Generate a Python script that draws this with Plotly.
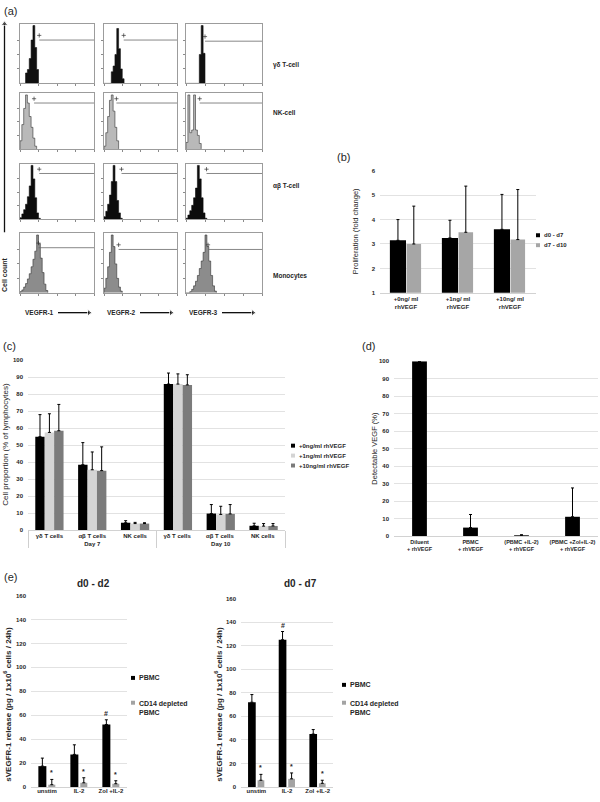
import plotly.graph_objects as go

W, H = 600, 802
FONT = "Liberation Sans"
TXT = "#262626"
GRID = "#e2e2e2"

# ---------------- (a) flow cytometry histograms ----------------
# counts per bin; bins are 2.5 units wide on a 0-100 display axis (4 log decades)
BIN = 2.5
gd_vegfr1 = [0, 0, 0, 18, 24, 43, 75, 100, 62, 24]
gd_vegfr2 = [0, 0, 0, 0, 20, 30, 50, 95, 60, 25, 8]
gd_vegfr3 = [0, 0, 0, 0, 0, 0, 0, 50, 100, 52]
nk_vegfr1 = [15, 45, 75, 100, 85, 60, 40, 20, 5]
nk_vegfr2 = [5, 30, 60, 90, 100, 70, 40, 15]
nk_vegfr3 = [12, 100, 30, 35, 100, 35, 25, 10]
ab_vegfr1 = [3, 10, 18, 28, 42, 62, 100, 75, 40, 12, 2]
ab_vegfr2 = [5, 15, 28, 45, 70, 100, 70, 35, 12, 2]
ab_vegfr3 = [2, 8, 16, 26, 40, 58, 100, 75, 40, 12, 2]
mo_vegfr1 = [2, 5, 10, 16, 24, 33, 45, 58, 72, 100, 85, 60, 35, 15, 4]
mo_vegfr2 = [8, 25, 45, 70, 100, 80, 50, 25, 10, 3]
mo_vegfr3 = [0, 0, 2, 6, 12, 20, 30, 42, 55, 70, 100, 80, 55, 30, 12, 3]
gate_start_gd = [26, 27, 25]
gate_level_gd = [75, 75, 73]
gate_start_nk = [19, 17, 18]
gate_level_nk = [85, 85, 85]
gate_start_ab = [26, 24, 27]
gate_level_ab = [85, 85, 85]
gate_start_mo = [25, 20, 29]
gate_level_mo = [78, 75, 75]
hist_row_labels = ["γδ T-cell", "NK-cell", "αβ T-cell", "Monocytes"]
hist_col_labels = ["VEGFR-1", "VEGFR-2", "VEGFR-3"]

# ---------------- (b) proliferation ----------------
b_categories = ["+0ng/ ml<br>rhVEGF", "+1ng/ ml<br>rhVEGF", "+10ng/ ml<br>rhVEGF"]
b_d0_d7 = [3.15, 3.25, 3.60]
b_d0_d7_err = [0.85, 0.72, 1.43]
b_d7_d10 = [3.00, 3.48, 3.18]
b_d7_d10_err = [1.55, 1.89, 2.05]

# ---------------- (c) cell proportions ----------------
c_days = ["Day 7", "Day 7", "Day 7", "Day 10", "Day 10", "Day 10"]
c_cells = ["γδ T cells", "αβ T cells", "NK cells", "γδ T cells ", "αβ T cells ", "NK cells "]
c_0ng = [55.0, 38.5, 4.3, 86.0, 9.7, 2.5]
c_0ng_err = [13.0, 13.0, 1.2, 6.5, 5.3, 1.5]
c_1ng = [57.5, 35.5, 3.8, 86.0, 9.2, 2.3]
c_1ng_err = [11.0, 10.5, 0.7, 6.0, 4.8, 1.5]
c_10ng = [58.5, 35.0, 3.8, 85.5, 9.5, 2.4]
c_10ng_err = [15.5, 14.0, 0.5, 6.0, 5.5, 1.4]
c_series = ["+0ng/ml rhVEGF", "+1ng/ml rhVEGF", "+10ng/ml rhVEGF"]

# ---------------- (d) detectable VEGF ----------------
d_categories = ["Diluent<br>+ rhVEGF", "PBMC<br>+ rhVEGF",
                "(PBMC +IL-2)<br>+ rhVEGF", "(PBMC +Zol+IL-2)<br>+ rhVEGF"]
d_values = [100.0, 4.8, 0.4, 11.0]
d_err = [0.0, 7.5, 0.3, 16.5]

# ---------------- (e) sVEGFR-1 release ----------------
e_categories = ["unstim", "IL-2", "Zol +IL-2"]
e_d2_pbmc = [17.5, 27.3, 52.3]
e_d2_pbmc_err = [6.7, 8.0, 3.9]
e_d2_cd14 = [2.0, 3.6, 2.8]
e_d2_cd14_err = [4.4, 4.2, 2.5]
e_d7_pbmc = [72.0, 125.0, 45.0]
e_d7_pbmc_err = [6.5, 7.0, 3.8]
e_d7_cd14 = [5.8, 7.0, 3.2]
e_d7_cd14_err = [5.0, 5.0, 2.6]
e_d2_hash = [False, False, True]
e_d7_hash = [False, True, False]

# ======================================================================
traces = []
layout = {}
annotations = []
shapes = []


def tf(size=6, bold=True, color=TXT):
    d = dict(family=FONT, size=size, color=color)
    if bold:
        d["weight"] = "bold"
    return d


def refs(n):
    s = "" if n == 1 else str(n)
    return "xaxis" + s, "yaxis" + s, "x" + s, "y" + s


def add_axes(n, xd, yd, xkw, ykw):
    xa, ya, xr, yr = refs(n)
    layout[xa] = dict(domain=[xd[0] / W, xd[1] / W], anchor=yr, **xkw)
    layout[ya] = dict(domain=[1 - yd[1] / H, 1 - yd[0] / H], anchor=xr, **ykw)
    return xr, yr


def ptext(text, x, y, size=6, bold=True, xanchor="center", yanchor="middle",
          angle=0, align="center"):
    annotations.append(dict(text=text, x=x / W, y=1 - y / H, xref="paper", yref="paper",
                            showarrow=False, xanchor=xanchor, yanchor=yanchor,
                            textangle=angle, align=align, font=tf(size, bold)))


def legend_item(x, y, color, text, size=6):
    shapes.append(dict(type="rect", xref="paper", yref="paper",
                       x0=x / W, x1=(x + 4) / W, y0=1 - (y + 2) / H, y1=1 - (y - 2) / H,
                       fillcolor=color, line=dict(width=0)))
    ptext(text, x + 6, y, size=size, xanchor="left", yanchor="middle", align="left")


def err(arr):
    return dict(type="data", array=arr, arrayminus=[0] * len(arr), symmetric=False,
                color="#000000", thickness=1, width=1.5)


# ---------------- panel (a) ----------------
rows_y = [(21, 81), (91, 147), (162, 218), (232, 292)]
cols_x = [(20, 94), (104, 177), (186, 262)]
hist_data = [[gd_vegfr1, gd_vegfr2, gd_vegfr3],
             [nk_vegfr1, nk_vegfr2, nk_vegfr3],
             [ab_vegfr1, ab_vegfr2, ab_vegfr3],
             [mo_vegfr1, mo_vegfr2, mo_vegfr3]]
gate_starts = [gate_start_gd, gate_start_nk, gate_start_ab, gate_start_mo]
gate_levels = [gate_level_gd, gate_level_nk, gate_level_ab, gate_level_mo]
fills = ["#101010", "#b9b9b9", "#0c0c0c", "#8c8c8c"]
outlines = ["#101010", "#333333", "#0c0c0c", "#333333"]
hist_axis = dict(range=[0, 100], showline=True, mirror=True, linecolor="#9c9c9c",
                 linewidth=1, ticks="outside", ticklen=2, tickcolor="#8a8a8a",
                 tickvals=[0, 25, 50, 75, 100], showticklabels=False,
                 showgrid=False, zeroline=False, fixedrange=True)
hist_yaxis = dict(range=[0, 103], showline=True, mirror=True, linecolor="#9c9c9c",
                  linewidth=1, ticks="outside", ticklen=2, tickcolor="#8a8a8a",
                  tickvals=[25, 50, 75], showticklabels=False,
                  showgrid=False, zeroline=False, fixedrange=True)
n = 0
for r in range(4):
    for c in range(3):
        n += 1
        xr, yr = add_axes(n, cols_x[c], rows_y[r], dict(hist_axis), dict(hist_yaxis))
        counts = hist_data[r][c]
        xs = [0] + [i * BIN for i in range(len(counts))] + [len(counts) * BIN]
        ys = [0] + list(counts) + [0]
        traces.append(go.Scatter(x=xs, y=ys, mode="lines", line_shape="hv",
                                 fill="tozeroy", fillcolor=fills[r], xaxis=xr, yaxis=yr,
                                 line=dict(color=outlines[r], width=0.6)))
        traces.append(go.Scatter(x=[gate_starts[r][c], 100],
                                 y=[gate_levels[r][c], gate_levels[r][c]],
                                 mode="lines", xaxis=xr, yaxis=yr,
                                 line=dict(color="#6a6a6a", width=0.8)))
        traces.append(go.Scatter(x=[gate_starts[r][c]], y=[gate_levels[r][c] + 8],
                                 mode="markers", xaxis=xr, yaxis=yr,
                                 marker=dict(symbol="cross-thin", size=3,
                                             line=dict(color="#333", width=0.7))))

row_label_y = [62, 110, 184, 275]
for r in range(4):
    ptext(hist_row_labels[r], 271, row_label_y[r], size=6.5, xanchor="left")

# full-page overlay axis (pixel units) for the axis arrows of panel (a)
xr_o, yr_o = add_axes(18, (0, W), (0, H),
                      dict(range=[0, W], visible=False, fixedrange=True),
                      dict(range=[H, 0], visible=False, fixedrange=True))
col_label_x = [23, 105, 187]
for c in range(3):
    ptext(hist_col_labels[c], col_label_x[c], 312, size=6.5, xanchor="left")
    x0 = col_label_x[c] + 35
    traces.append(go.Scatter(x=[x0, x0 + 31], y=[312, 312], mode="lines+markers",
                             xaxis=xr_o, yaxis=yr_o, line=dict(color="#111", width=1.3),
                             marker=dict(symbol=["circle", "triangle-right"],
                                         size=[0, 6], color="#111")))
traces.append(go.Scatter(x=[4.5, 4.5], y=[231, 21], mode="lines+markers",
                         xaxis=xr_o, yaxis=yr_o, line=dict(color="#111", width=1.3),
                         marker=dict(symbol=["circle", "triangle-up"], size=[0, 6],
                                     color="#111")))
ptext("Cell count", 5, 274, size=7, angle=-90)

# ---------------- panel (b) ----------------
bar_y = lambda rng, dt: dict(range=rng, dtick=dt, showgrid=True, gridcolor=GRID,
                              gridwidth=1, zeroline=False, showline=False, ticks="",
                              ticklen=0, tickfont=tf(6), ticklabelstandoff=4,
                              fixedrange=True)


def bar_x(ncat, size=6, kind="category"):
    return dict(type=kind, range=[-0.5, ncat - 0.5], showline=True, linecolor="#d2d2d2",
                linewidth=1, ticks="", ticklen=0, tickfont=tf(size), showgrid=False,
                fixedrange=True)


xr, yr = add_axes(13, (380, 536), (169, 292), bar_x(len(b_categories)), bar_y([1, 6], 1))
traces.append(go.Bar(x=b_categories, y=b_d0_d7, xaxis=xr, yaxis=yr, offset=-0.31,
                     width=0.31, marker=dict(color="#000000", line=dict(width=0)),
                     error_y=err(b_d0_d7_err)))
traces.append(go.Bar(x=b_categories, y=b_d7_d10, xaxis=xr, yaxis=yr, offset=0.01,
                     width=0.28, marker=dict(color="#a6a6a6", line=dict(width=0)),
                     error_y=err(b_d7_d10_err)))
ptext("Proliferation (fold change)", 355, 230, size=7.5, bold=False, angle=-90)
legend_item(536, 234, "#000000", "d0 - d7")
legend_item(536, 244, "#a6a6a6", "d7 - d10")

# ---------------- panel (c) ----------------
cx = bar_x(len(c_cells), kind="multicategory")
cx["dividercolor"] = "#cfcfcf"
cx["dividerwidth"] = 1
xr, yr = add_axes(14, (28, 285), (360, 531), cx, bar_y([0, 100], 10))
c_vals = [c_0ng, c_1ng, c_10ng]
c_errs = [c_0ng_err, c_1ng_err, c_10ng_err]
c_colors = ["#000000", "#d4d4d4", "#7b7b7b"]
c_offsets = [-0.33, -0.11, 0.11]
for k in range(3):
    traces.append(go.Bar(x=[c_days, c_cells], y=c_vals[k], xaxis=xr, yaxis=yr,
                         offset=c_offsets[k], width=0.22,
                         marker=dict(color=c_colors[k], line=dict(width=0)),
                         error_y=err(c_errs[k])))
    legend_item(291, 446 + 10 * k, c_colors[k], c_series[k])
ptext("Cell proportion (% of lymphocytes)", 6, 445, size=8, bold=False, angle=-90)

# ---------------- panel (d) ----------------
xr, yr = add_axes(15, (394, 598), (361, 537), bar_x(len(d_categories), size=5.5),
                  bar_y([0, 100], 10))
traces.append(go.Bar(x=d_categories, y=d_values, xaxis=xr, yaxis=yr, offset=-0.145,
                     width=0.29, marker=dict(color="#000000", line=dict(width=0)),
                     error_y=err(d_err)))
ptext("Detectable VEGF (%)", 375, 449, size=7.5, bold=False, angle=-90)

# ---------------- panel (e) ----------------
e_panels = [
    (16, (31, 127), (597, 790), e_d2_pbmc, e_d2_pbmc_err, e_d2_cd14, e_d2_cd14_err,
     e_d2_hash, "d0 - d2", 93, 7, 131, 680),
    (17, (241, 333), (600, 790), e_d7_pbmc, e_d7_pbmc_err, e_d7_cd14, e_d7_cd14_err,
     e_d7_hash, "d0 - d7", 300, 218, 342, 687),
]
for (n, xd, yd, pv, pe, cv, ce, hs, title, tx, ytx, lx, ly) in e_panels:
    ex = bar_x(len(e_categories))
    ex["ticklabelstandoff"] = -2
    xr, yr = add_axes(n, xd, yd, ex, bar_y([0, 160], 20))
    traces.append(go.Bar(x=e_categories, y=pv, xaxis=xr, yaxis=yr, offset=-0.27,
                         width=0.25, marker=dict(color="#000000", line=dict(width=0)),
                         error_y=err(pe)))
    traces.append(go.Bar(x=e_categories, y=cv, xaxis=xr, yaxis=yr, offset=0.04,
                         width=0.22, marker=dict(color="#a3a3a3", line=dict(width=0)),
                         error_y=err(ce)))
    unit = (xd[1] - xd[0]) / len(e_categories)
    for i, cat in enumerate(e_categories):
        annotations.append(dict(text="*", x=cat, y=cv[i] + ce[i], xref=xr, yref=yr,
                                xshift=0.15 * unit, yshift=1, yanchor="bottom",
                                showarrow=False, font=tf(7)))
        if hs[i]:
            annotations.append(dict(text="#", x=cat, y=pv[i] + pe[i], xref=xr, yref=yr,
                                    xshift=-0.145 * unit, yshift=1, yanchor="bottom",
                                    showarrow=False, font=tf(7)))
    ptext(title, tx, 585, size=10)
    ptext("sVEGFR-1 release (pg / 1x10<sup>6</sup> cells / 24h)", ytx, 707, size=8,
          angle=-90)
    legend_item(lx, ly, "#000000", "PBMC", size=7)
    shapes.append(dict(type="rect", xref="paper", yref="paper",
                       x0=lx / W, x1=(lx + 4) / W, y0=1 - 707 / H, y1=1 - 703 / H,
                       fillcolor="#a3a3a3", line=dict(width=0)))
    ptext("CD14 depleted<br>PBMC", lx + 6, 700, size=7, xanchor="left",
          yanchor="top", align="left")

# ---------------- panel letters ----------------
ptext("(a)", 2, 8, size=11, bold=False, xanchor="left")
ptext("(b)", 343, 155, size=11, bold=False)
ptext("(c)", 1, 346, size=11, bold=False, xanchor="left")
ptext("(d)", 368, 346, size=11, bold=False)
ptext("(e)", 2, 578, size=11, bold=False, xanchor="left")

fig = go.Figure(data=traces)
fig.update_layout(**layout)
fig.update_layout(width=W, height=H, autosize=False,
                  margin=dict(l=0, r=0, t=0, b=0, pad=0),
                  paper_bgcolor="white", plot_bgcolor="rgba(0,0,0,0)",
                  barmode="overlay", showlegend=False, hovermode=False,
                  font=dict(family=FONT, color=TXT),
                  annotations=annotations, shapes=shapes)
# the page body has a default 8px margin; remove it so the figure fills the window
fig.write_html("out.html",
               config={"displayModeBar": False, "staticPlot": True},
               post_script="document.body.style.margin='0';"
                           "document.body.style.padding='0';"
                           "document.documentElement.style.overflow='hidden';")
